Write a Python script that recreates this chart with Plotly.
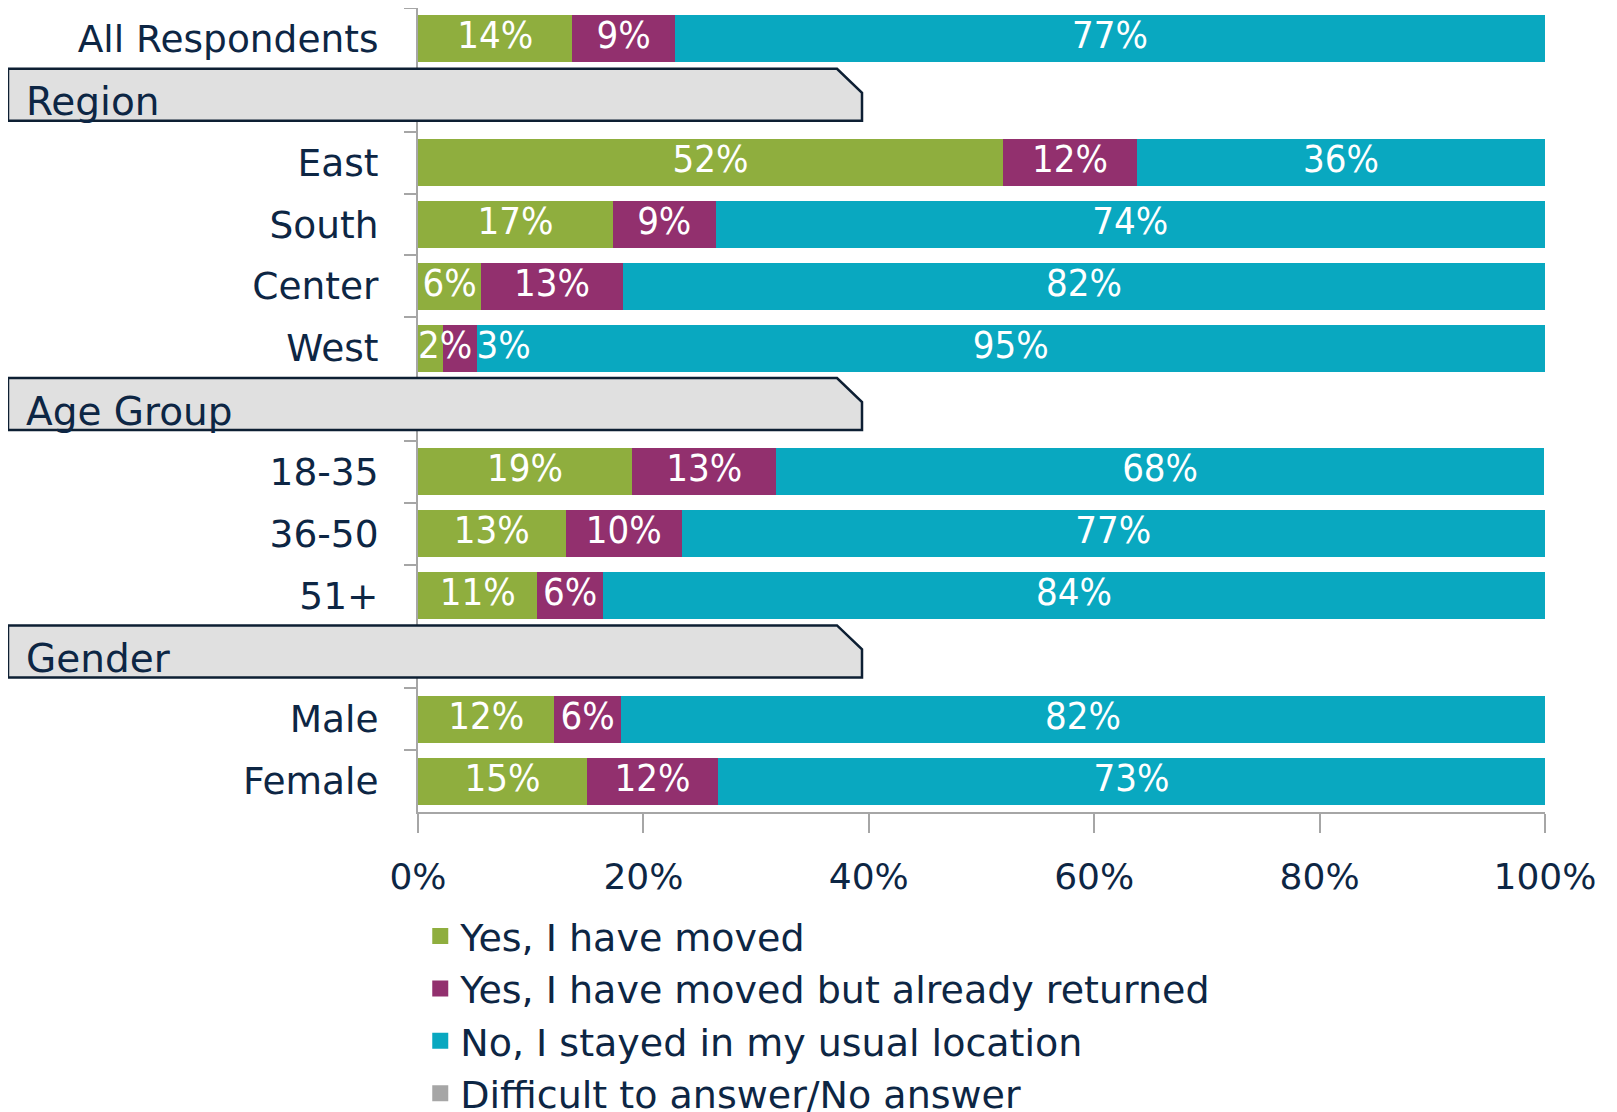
import plotly.graph_objects as go

# ---------------- data ----------------
rows = ["All Respondents", "Region", "East", "South", "Center", "West",
        "Age Group", "18-35", "36-50", "51+", "Gender", "Male", "Female"]
headers = ["Region", "Age Group", "Gender"]
categories = ["All Respondents", "East", "South", "Center", "West",
              "18-35", "36-50", "51+", "Male", "Female"]

series_names = ["Yes, I have moved",
                "Yes, I have moved but already returned",
                "No, I stayed in my usual location",
                "Difficult to answer/No answer"]
moved = [13.7, 51.9, 17.3, 5.6, 2.2, 19.0, 13.1, 10.6, 12.1, 15.0]
returned = [9.1, 11.9, 9.1, 12.6, 3.0, 12.8, 10.3, 5.8, 5.9, 11.6]
stayed = [77.2, 36.2, 73.6, 81.8, 94.8, 68.1, 76.6, 83.6, 82.0, 73.4]
no_answer = [0, 0, 0, 0, 0, 0, 0, 0, 0, 0]
values = [moved, returned, stayed, no_answer]
colors = ["#8FAE3E", "#92306E", "#09A8C0", "#A6A6A6"]

x_ticks = [0, 20, 40, 60, 80, 100]
x_tick_labels = ["0%", "20%", "40%", "60%", "80%", "100%"]

# ---------------- styling ----------------
FONT = "DejaVu Sans"
LABEL_FONT = "Liberation Sans Narrow, DejaVu Sans Condensed, DejaVu Sans"
NAVY = "#0D2644"
AXIS = "#A6A6A6"
OFF = 8                      # page body margin
SW, SH = 1617, 1112          # screen size
W, H = SW - OFF, SH - OFF
PL, PR, PT, PB = 418, 1545, 8, 812   # plot area on screen
ML, MR, MT, MB = PL - OFF, W - (PR - OFF), PT - OFF, H - (PB - OFF)
plot_w = PR - PL
plot_h = PB - PT

cat_ids = []
for r in rows:
    cat_ids.append(" " * (headers.index(r) + 1) if r in headers else r)

fig = go.Figure()
for name, vals, col in zip(series_names, values, colors):
    fig.add_trace(go.Bar(
        x=vals, y=categories, orientation="h", name=name,
        marker=dict(color=col, line=dict(width=0)),
        showlegend=False, hoverinfo="skip"))

# value labels drawn on top of the bars
lx, ly, lt, lp = [], [], [], []
for ci, cat in enumerate(categories):
    start = 0
    for vals in values:
        v = vals[ci]
        if v > 0:
            if v >= 4:
                lx.append(start + v / 2)
                lp.append("middle center")
            elif start == 0:
                lx.append(start)
                lp.append("middle right")
            else:
                lx.append(start + v)
                lp.append("middle right")
            ly.append(cat)
            lt.append(f"{round(v)}%")
        start += v
fig.add_trace(go.Scatter(
    x=lx, y=ly, mode="text", text=lt, textposition=lp,
    textfont=dict(family=LABEL_FONT, size=38, color="white"),
    showlegend=False, hoverinfo="skip", cliponaxis=False))

# legend entries
for name, col in zip(series_names, colors):
    fig.add_trace(go.Scatter(
        x=[None], y=[None], mode="markers", name=name,
        marker=dict(symbol="square", size=16, color=col)))

# header boxes
shapes, annos = [], []
n = len(rows)
for h in headers:
    i = rows.index(h)
    yc = 1 - (i + 0.5) / n
    yt = yc + 32 / plot_h
    yb = yc - 20 / plot_h
    x0 = (8 - PL) / plot_w
    x1 = (862 - PL) / plot_w
    xc = (837 - PL) / plot_w
    dc = 24 / plot_h
    shapes.append(dict(
        type="path", xref="paper", yref="paper", layer="above",
        path=f"M{x0},{yb} L{x0},{yt} L{xc},{yt} L{x1},{yt - dc} L{x1},{yb} Z",
        fillcolor="#E0E0E0", line=dict(color="#0D1F33", width=2.5)))
    annos.append(dict(
        xref="paper", yref="paper", x=(24 - PL) / plot_w,
        y=yb + 19 / plot_h, xanchor="left", yanchor="middle",
        text=h, showarrow=False,
        font=dict(family=FONT, size=39, color=NAVY)))

fig.update_layout(
    width=W, height=H,
    margin=dict(l=ML, r=MR, t=MT, b=MB, autoexpand=False),
    barmode="stack", bargap=0.24,
    plot_bgcolor="white", paper_bgcolor="white",
    font=dict(family=FONT, size=37, color=NAVY),
    shapes=shapes, annotations=annos,
    legend=dict(orientation="v", x=0.002, y=-0.1155, xanchor="left",
                yanchor="top", traceorder="normal",
                font=dict(family=FONT, size=38, color=NAVY),
                bgcolor="rgba(0,0,0,0)"),
    xaxis=dict(range=[0, 100], tickmode="array", tickvals=x_ticks,
               ticktext=x_tick_labels,
               showgrid=False, zeroline=False,
               showline=True, linecolor=AXIS, linewidth=2,
               ticks="outside", ticklen=19, tickcolor=AXIS, tickwidth=2,
               ticklabelstandoff=13,
               tickfont=dict(family=FONT, size=36, color=NAVY)),
    yaxis=dict(type="category", categoryorder="array", categoryarray=cat_ids,
               range=[len(rows) - 0.5, -0.5], tickson="boundaries",
               showgrid=False, zeroline=False,
               showline=True, linecolor=AXIS, linewidth=2,
               ticks="outside", ticklen=12, tickcolor=AXIS, tickwidth=2,
               ticklabelstandoff=30,
               tickfont=dict(family=FONT, size=37.5, color=NAVY)),
)

fig.write_html("out.html")
